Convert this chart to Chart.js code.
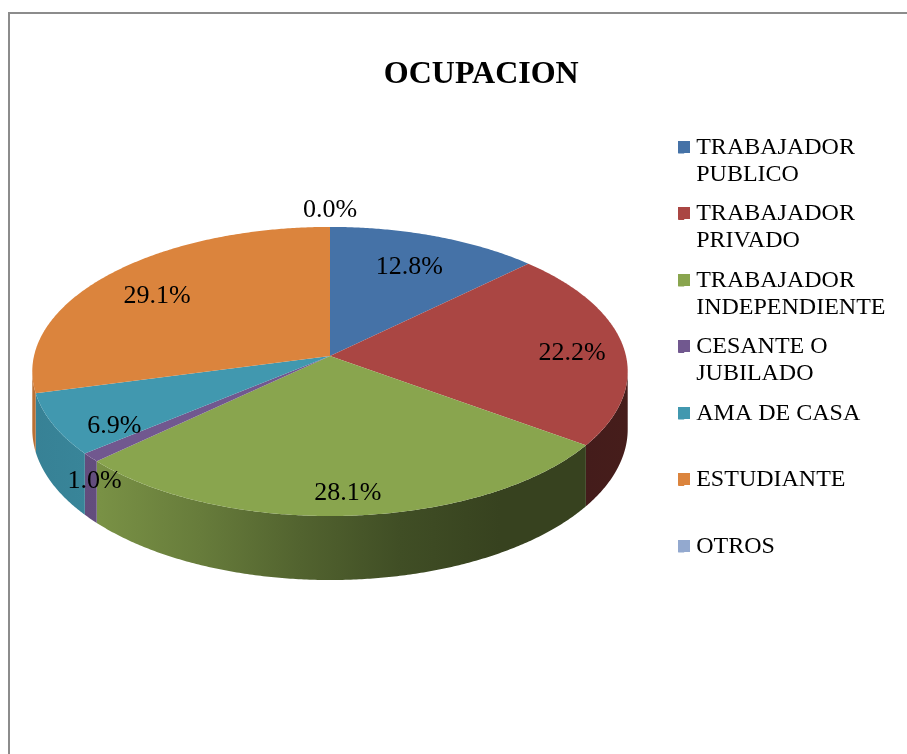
<!DOCTYPE html>
<html><head><meta charset="utf-8">
<style>
html,body{margin:0;padding:0;background:#fff;overflow:hidden;width:907px;height:754px}
#frame{position:absolute;left:8px;top:12px;width:920px;height:760px;border:2px solid #8c8c8c;box-sizing:border-box}
#cut{position:absolute;left:15px;top:-26px;font:28px "Liberation Serif";color:#000;white-space:nowrap}
canvas{position:absolute;left:0;top:0}
</style></head><body>
<div id="cut">de actividad laboral.</div>
<div id="frame"></div>
<canvas id="c" width="907" height="754"></canvas>
<script src="https://cdn.jsdelivr.net/npm/chart.js@4"></script>
<script>
const categories = [["TRABAJADOR","PUBLICO"],["TRABAJADOR","PRIVADO"],["TRABAJADOR","INDEPENDIENTE"],["CESANTE O","JUBILADO"],["AMA DE CASA",""],["ESTUDIANTE",""],["OTROS",""]];
const values = [12.8,22.2,28.1,1.0,6.9,29.1,0.0];
const colors = ["#4572A7","#AA4643","#89A54E","#71588F","#4198AF","#DB843D","#93A9CF"];
const labelRadius = [0.735,0.825,0.875,0.985,0.787,0.775,1.145];
const labelDrop = [2,6,0,26,18,5,0];

// Perspective view of the pie disc
const view = {cx:330, cy:356, R:296, k:142.9, p:0.107, depth:64};
function project(a, r, z){
  const u=Math.cos(a)*r, v=Math.sin(a)*r, w=1-view.p*v;
  return {x:view.cx+view.R*u/w, y:view.cy+view.k*v/w+(z||0)*(1/w)*(1-view.p)};
}
function shade(hex,f){
  const n=parseInt(hex.slice(1),16);
  return `rgb(${Math.round((n>>16&255)*f)},${Math.round((n>>8&255)*f)},${Math.round((n&255)*f)})`;
}
const stopsX=[33,100,200,300,400,500,585,628], stopsF=[0.85,0.88,0.75,0.60,0.47,0.40,0.40,0.41];
function wallGradient(ctx,hex){
  const g=ctx.createLinearGradient(33,0,628,0);
  stopsX.forEach((x,i)=>g.addColorStop((x-33)/595,shade(hex,stopsF[i])));
  return g;
}
const pie3d={id:'pie3d',
  beforeDatasetDraw(chart){
    const ctx=chart.ctx, arcs=chart.getDatasetMeta(0).data;
    const z=view.depth, vmax=Math.asin(view.p);
    const aR=vmax, aL=Math.PI-vmax; // silhouette angles
    // side walls
    arcs.forEach((el,i)=>{
      let s=el.startAngle, e=el.endAngle;
      if(e-s<1e-6) return;
      const norm=x=>{while(x<0)x+=2*Math.PI;while(x>=2*Math.PI)x-=2*Math.PI;return x;};
      const pieces=[];
      const s0=norm(s), len=e-s;
      [[s0,s0+len],[s0-2*Math.PI,s0+len-2*Math.PI]].forEach(([a,b])=>{
        const lo=Math.max(a,aR), hi=Math.min(b,aL);
        if(hi>lo) pieces.push([lo,hi]);
      });
      pieces.forEach(([lo,hi])=>{
        ctx.beginPath();
        const n=Math.max(4,Math.ceil((hi-lo)*120));
        for(let t=0;t<=n;t++){const p=project(lo+(hi-lo)*t/n,1,0);t?ctx.lineTo(p.x,p.y):ctx.moveTo(p.x,p.y);}
        for(let t=n;t>=0;t--){const p=project(lo+(hi-lo)*t/n,1,z);ctx.lineTo(p.x,p.y);}
        ctx.closePath();
        ctx.fillStyle=wallGradient(ctx,colors[i]);
        ctx.fill();
      });
    });
    // top face
    arcs.forEach((el,i)=>{
      if(el.endAngle-el.startAngle<1e-6) return;
      ctx.beginPath();
      const c=project(0,0,0); ctx.moveTo(c.x,c.y);
      const n=Math.max(4,Math.ceil((el.endAngle-el.startAngle)*120));
      for(let t=0;t<=n;t++){const p=project(el.startAngle+(el.endAngle-el.startAngle)*t/n,1,0);ctx.lineTo(p.x,p.y);}
      ctx.closePath();
      ctx.fillStyle=colors[i];ctx.fill();
    });
    return false;
  },
  afterDatasetsDraw(chart){
    const ctx=chart.ctx, arcs=chart.getDatasetMeta(0).data;
    ctx.save();
    ctx.font='26px "Liberation Serif"';ctx.fillStyle='#000';ctx.textAlign='center';ctx.textBaseline='middle';
    arcs.forEach((el,i)=>{
      const mid=(el.startAngle+el.endAngle)/2;
      const p=project(mid,labelRadius[i],labelDrop[i]);
      ctx.fillText(values[i].toFixed(1)+'%',p.x,p.y);
    });
    ctx.restore();
  },
  afterDraw(chart){
    // legend swatches are twice as wide as the library's box, which sets the text gap
    const ctx=chart.ctx;
    chart.legend.legendHitBoxes.forEach((b,i)=>{
      ctx.fillStyle=colors[i];
      ctx.fillRect(Math.round(b.left),Math.round(b.top)+5,12,12);
    });
  }
};
new Chart(document.getElementById('c'),{
  type:'pie',
  data:{labels:categories,datasets:[{data:values,backgroundColor:colors,borderWidth:0}]},
  options:{
    responsive:false,animation:false,events:[],
    layout:{padding:{left:67,right:11.5,top:0,bottom:0}},
    plugins:{
      tooltip:{enabled:false},
      title:{display:true,text:'OCUPACION',color:'#000',font:{family:'Liberation Serif',size:32,weight:'bold',lineHeight:1.2},padding:{top:56,bottom:20}},
      legend:{position:'right',align:'start',
        title:{display:true,text:'',color:'#000',font:{size:12},padding:{top:0,bottom:108.6}},
        labels:{color:'#000',font:{family:'Liberation Serif',size:24,lineHeight:1.125},boxWidth:6,boxHeight:12,padding:12.5,
          generateLabels(chart){return categories.map((t,i)=>({text:t,fillStyle:colors[i],strokeStyle:colors[i],fontColor:'#000',lineWidth:0,index:i,hidden:false}));}
        }
      }
    }
  },
  plugins:[pie3d]
});
</script></body></html>
